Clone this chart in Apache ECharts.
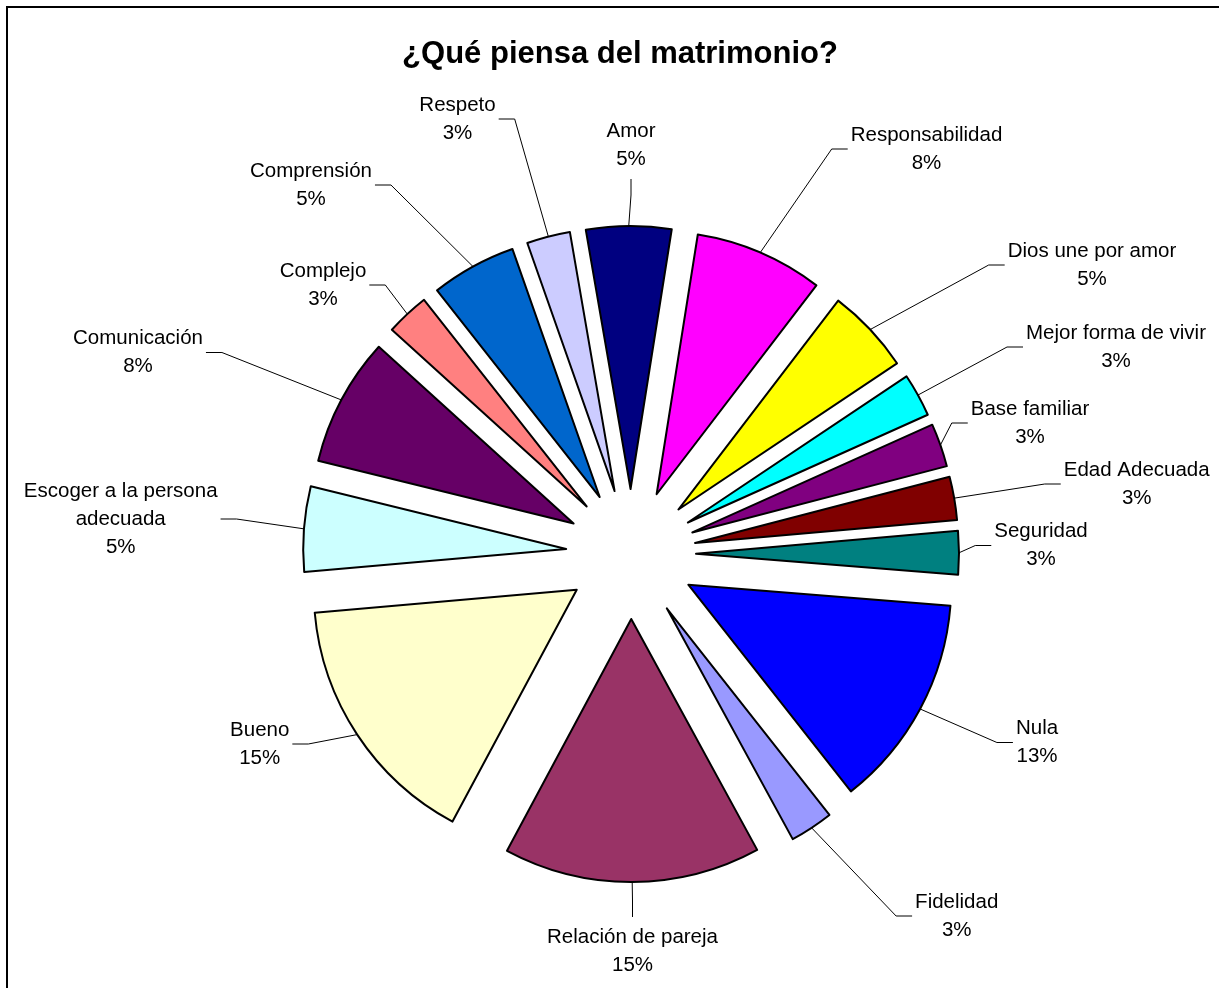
<!DOCTYPE html>
<html>
<head>
<meta charset="utf-8">
<script src="https://cdn.jsdelivr.net/npm/echarts@6/dist/echarts.min.js"></script>
<style>
  html, body { margin: 0; padding: 0; background: #fff; }
  #chart { width: 1219px; height: 988px; }
</style>
</head>
<body>
<div id="chart"></div>
<script>
// ---- data ----
const title = '¿Qué piensa del matrimonio?';
const categories = [
  'Amor', 'Responsabilidad', 'Dios une por amor', 'Mejor forma de vivir',
  'Base familiar', 'Edad Adecuada', 'Seguridad', 'Nula', 'Fidelidad',
  'Relación de pareja', 'Bueno', 'Escoger a la persona adecuada',
  'Comunicación', 'Complejo', 'Comprensión', 'Respeto'
];
const values = [5.1, 7.7, 5.1, 2.6, 2.6, 2.6, 2.6, 12.8, 2.6, 15.4, 15.4, 5.1, 7.7, 2.6, 5.1, 2.6];
const colors = [
  '#000080', '#FF00FF', '#FFFF00', '#00FFFF', '#800080', '#800000', '#008080', '#0000FF',
  '#9999FF', '#993366', '#FFFFCC', '#CCFFFF', '#660066', '#FF8080', '#0066CC', '#CCCCFF'
];

// ---- layout ----
const CX = 631, CY = 554, R = 263, OFF = 65;
const START = -9.8; // degrees clockwise from 12 o'clock where the first slice begins
// label centres, relative to the pie centre
const labelOffsets = [
  [0, -409], [295.5, -405], [461, -289], [485, -207], [399, -131], [505.7, -70],
  [410, -8.5], [406, 188.5], [325.7, 362], [1.5, 397], [-371.3, 190], [-510.3, -35],
  [-493, -201.5], [-308, -269], [-320, -369], [-173.5, -435]
];
const FONT = 'Liberation Sans, Arial, sans-serif';

const total = values.reduce((a, b) => a + b, 0);
const midAngles = [];
{
  let acc = START;
  for (const v of values) {
    const span = v / total * 360;
    midAngles.push(acc + span / 2);
    acc += span;
  }
}

function wrap(name) {
  const words = name.split(' ');
  const lines = [];
  let cur = '';
  for (const w of words) {
    const t = cur ? cur + ' ' + w : w;
    if (t.length > 20 && cur) { lines.push(cur); cur = w; } else cur = t;
  }
  lines.push(cur);
  return lines.join('\n');
}

const pieData = categories.map((n, i) => ({
  name: n, value: values[i], selected: true,
  itemStyle: { color: colors[i] }
}));
const labelData = categories.map((n, i) => ({ name: n, value: values[i] }));

const chart = echarts.init(document.getElementById('chart'), null, { renderer: 'canvas' });
chart.setOption({
  animation: false,
  backgroundColor: '#fff',
  graphic: [
    { type: 'rect', shape: { x: 7, y: 7, width: 1300, height: 1100 },
      style: { fill: 'none', stroke: '#000', lineWidth: 2 }, silent: true, z: 0 },
    { type: 'text', x: 620, y: 54,
      style: { text: title, fill: '#000', font: 'bold 31px ' + FONT, textAlign: 'center', textVerticalAlign: 'middle' },
      silent: true, z: 10 }
  ],
  series: [
    {
      type: 'pie',
      center: [CX, CY],
      radius: R,
      startAngle: 90 - START,
      clockwise: true,
      selectedMode: 'multiple',
      selectedOffset: OFF,
      avoidLabelOverlap: false,
      silent: true,
      emphasis: { disabled: true },
      itemStyle: { borderColor: '#000', borderWidth: 2 },
      select: { itemStyle: { borderColor: '#000', borderWidth: 2 } },
      label: { show: false },
      labelLine: { show: false },
      data: pieData
    },
    {
      type: 'pie',
      center: [CX, CY],
      radius: R,
      startAngle: 90 - START,
      clockwise: true,
      silent: true,
      avoidLabelOverlap: false,
      emphasis: { disabled: true },
      itemStyle: { color: 'rgba(0,0,0,0)', borderWidth: 0 },
      label: {
        show: true,
        position: 'outside',
        color: '#000',
        fontFamily: FONT,
        fontSize: 20.5,
        lineHeight: 28,
        align: 'center',
        formatter: p => wrap(p.name) + '\n' + Math.round(p.value) + '%'
      },
      labelLine: { show: true, length: 5, length2: 5, lineStyle: { color: '#000', width: 1 } },
      labelLayout: function (p) {
        const i = p.dataIndex;
        const lx = CX + labelOffsets[i][0], ly = CY + labelOffsets[i][1];
        const w = p.labelRect.width, h = p.labelRect.height;
        const a = midAngles[i] * Math.PI / 180;
        const ax = CX + (R + OFF) * Math.sin(a), ay = CY - (R + OFF) * Math.cos(a);
        const SEG = 16, GH = 3, GV = 6;
        let end, elbow;
        if (Math.abs(lx - ax) < w / 2) {
          if (ly < ay) { end = [lx, ly + h / 2 + GV]; elbow = [lx, end[1] + SEG]; }
          else { end = [lx, ly - h / 2 - GV]; elbow = [lx, end[1] - SEG]; }
        } else if (lx > ax) {
          end = [lx - w / 2 - GH, ly]; elbow = [end[0] - SEG, ly];
        } else {
          end = [lx + w / 2 + GH, ly]; elbow = [end[0] + SEG, ly];
        }
        return {
          x: lx, y: ly, align: 'center', verticalAlign: 'middle',
          labelLinePoints: [[ax, ay], elbow, end]
        };
      },
      data: labelData
    }
  ]
});
</script>
</body>
</html>
